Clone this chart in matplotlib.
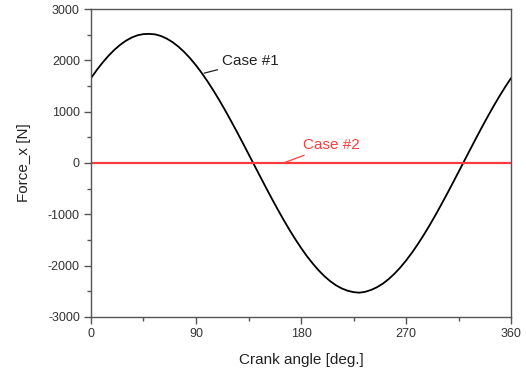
import matplotlib
matplotlib.use('Agg')
import matplotlib.pyplot as plt
from matplotlib.ticker import MultipleLocator

plt.rcParams['font.family'] = ['Liberation Sans', 'DejaVu Sans']
plt.rcParams['axes.unicode_minus'] = False

# crank angle [deg], 5 deg steps, and x-force for the two cases
crank_angle = list(range(0, 361, 5))
force_case1 = [1653, 1813, 1958, 2089, 2204, 2302, 2383, 2445, 2489, 2511, 2515, 2506, 2474, 2422,
               2353, 2265, 2160, 2039, 1902, 1751, 1586, 1409, 1222, 1025, 820, 610, 394, 176,
               -44, -263, -481, -695, -903, -1105, -1298, -1481, -1653, -1813, -1958, -2089, -2204,
               -2302, -2383, -2445, -2489, -2516, -2527, -2510, -2474, -2422, -2353, -2265, -2160,
               -2039, -1902, -1751, -1586, -1409, -1222, -1025, -820, -610, -394, -176, 44, 263,
               481, 695, 903, 1105, 1298, 1481, 1653]
force_case2 = [0] * len(crank_angle)

fig = plt.figure(figsize=(5.26, 3.69), dpi=100)
ax = fig.add_axes([0.173, 0.141, 0.7985, 0.8346])

red = '#ff3b3b'
ax.plot(crank_angle, force_case1, color='black', lw=1.3)
ax.plot(crank_angle, force_case2, color=red, lw=1.6)

ax.set_xlim(0, 360)
ax.set_ylim(-3000, 3000)
ax.xaxis.set_major_locator(MultipleLocator(90))
ax.xaxis.set_minor_locator(MultipleLocator(45))
ax.yaxis.set_major_locator(MultipleLocator(1000))
ax.yaxis.set_minor_locator(MultipleLocator(500))

for sp in ax.spines.values():
    sp.set_color('#555555')
    sp.set_linewidth(1.0)
ax.tick_params(which='both', direction='out', color='#555555', top=False, right=False)
ax.tick_params(which='major', length=5, width=1.0, labelsize=9, labelcolor='#333333', pad=3)
ax.tick_params(which='minor', length=3, width=1.0)

ax.set_xlabel('Crank angle [deg.]', fontsize=11, color='#222222', labelpad=9)
ax.set_ylabel('Force_x [N]', fontsize=11, color='#222222', labelpad=12)

# case labels with short leader lines
ax.annotate('Case #1', xy=(97, 1750), xytext=(112, 1980), fontsize=11, color='#222222',
            va='center', ha='left',
            arrowprops=dict(arrowstyle='-', color='#222222', lw=0.9, shrinkA=1, shrinkB=0))
ax.annotate('Case #2', xy=(165, 0), xytext=(182, 350), fontsize=11, color=red,
            va='center', ha='left',
            arrowprops=dict(arrowstyle='-', color=red, lw=0.9, shrinkA=1, shrinkB=0))

fig.savefig('out.png', dpi=100)
